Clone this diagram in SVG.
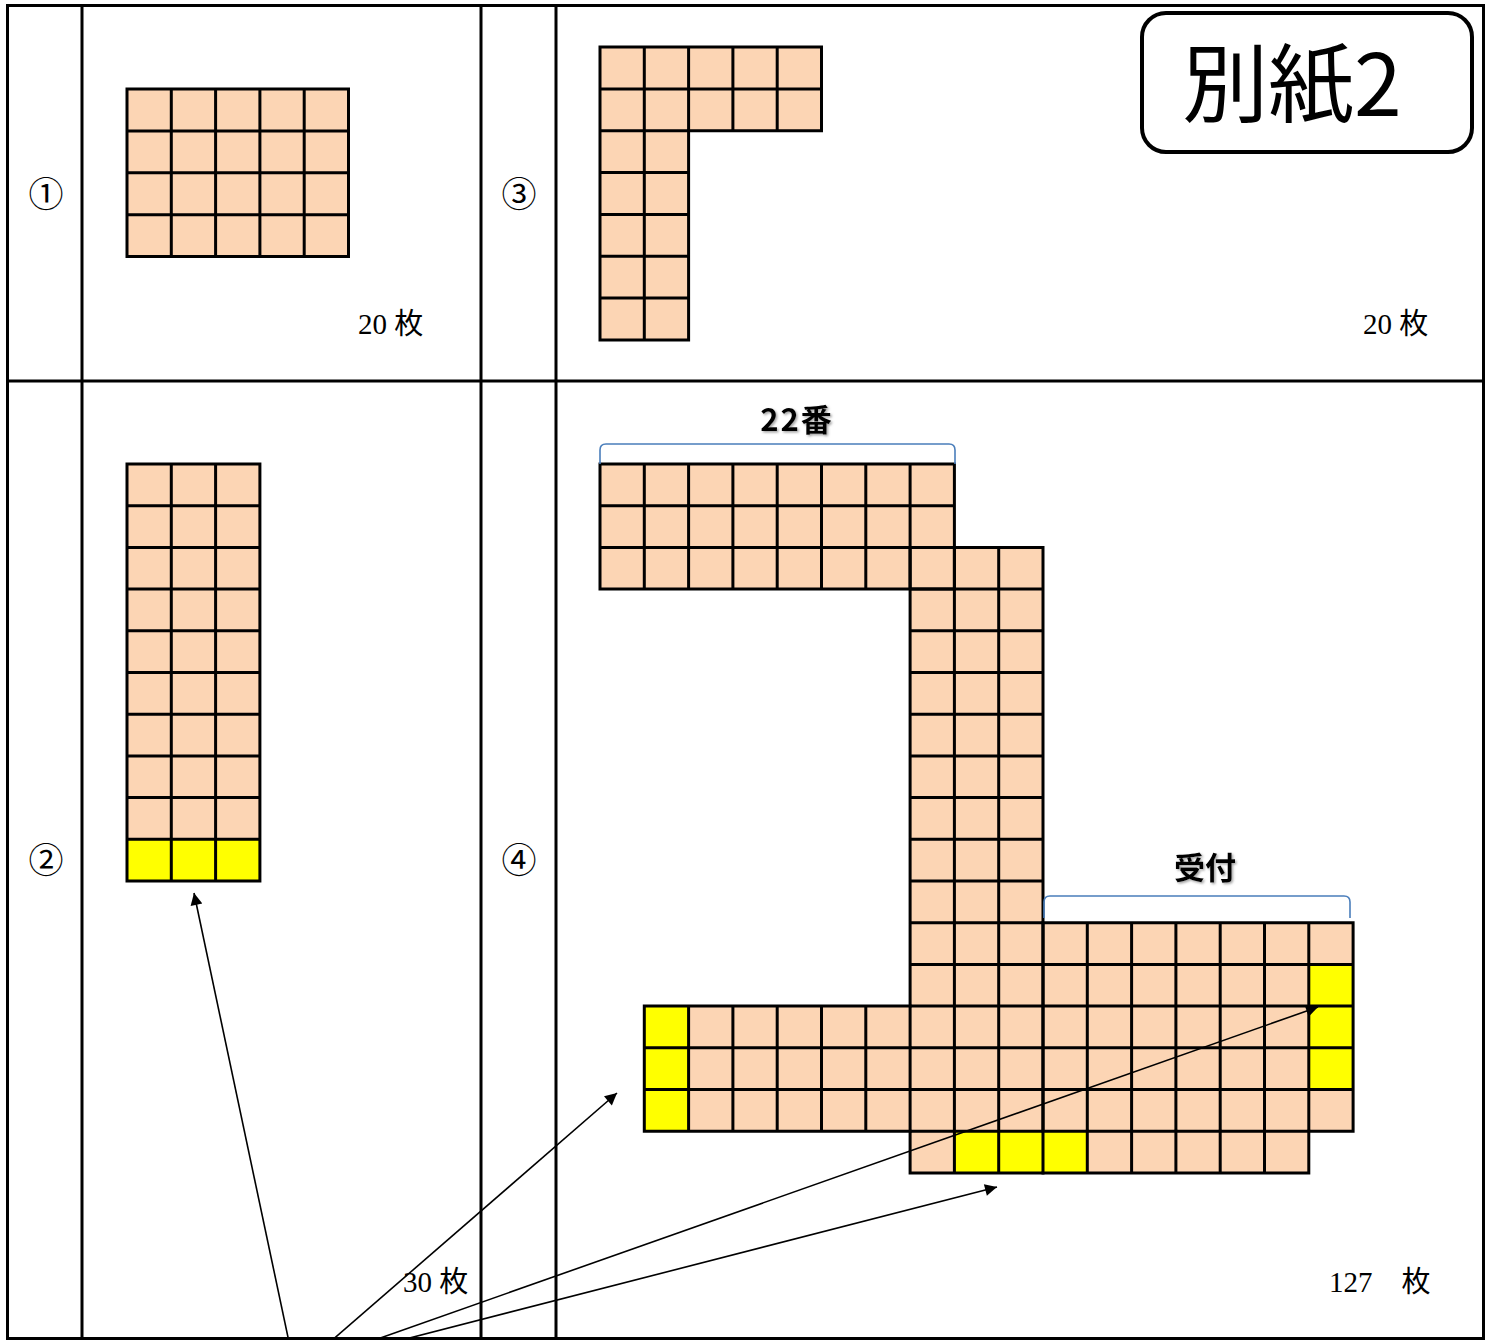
<svg xmlns="http://www.w3.org/2000/svg" width="1493" height="1340" viewBox="0 0 1493 1340">
<style>
.tbl{fill:none;stroke:#000;stroke-width:3}
.pe{fill:#FCD5B4}
.ye{fill:#FFFF00}
.gr{fill:none;stroke:#000;stroke-width:3;stroke-linecap:square}
.num{font-family:"Liberation Serif","Noto Sans CJK JP",serif;font-size:35px;fill:#000}
.cnt{font-family:"Liberation Serif","Noto Sans CJK JP",serif;font-size:29px;fill:#000}
.lab{font-family:"Noto Sans CJK JP",sans-serif;font-size:31px;font-weight:bold;fill:#000}
.br{fill:none;stroke:#4A7EBB;stroke-width:1.6}
.ar{fill:none;stroke:#000;stroke-width:1.6}
</style>
<defs>
<marker id="ahb" viewBox="0 0 10 10" refX="10" refY="5" markerWidth="16" markerHeight="12" markerUnits="userSpaceOnUse" orient="auto">
<path d="M0,0 L10,5 L0,10 z" fill="#000"/>
</marker>
<filter id="sh" x="-20%" y="-20%" width="140%" height="140%">
<feDropShadow dx="1.5" dy="1.5" stdDeviation="1" flood-color="#666" flood-opacity="0.6"/>
</filter>
</defs>
<rect width="1493" height="1340" fill="#fff"/>

<g id="table">
<rect class="tbl" x="7.5" y="5.5" width="1476" height="1333"/>
<line class="tbl" x1="82" y1="5.5" x2="82" y2="1340"/>
<line class="tbl" x1="481" y1="5.5" x2="481" y2="1340"/>
<line class="tbl" x1="556" y1="5.5" x2="556" y2="1340"/>
<line class="tbl" x1="7.5" y1="381" x2="1483.5" y2="381"/>
</g>

<g id="labels">
<text class="num" x="46" y="206.5" text-anchor="middle">①</text>
<text class="num" x="46" y="872.5" text-anchor="middle">②</text>
<text class="num" x="519" y="206.5" text-anchor="middle">③</text>
<text class="num" x="519" y="872.5" text-anchor="middle">④</text>
</g>

<g id="panel1">
<rect class="pe" x="127" y="89" width="221.5" height="167.6"/>
<path class="gr" d="M127,89H348.5M127,130.9H348.5M127,172.8H348.5M127,214.7H348.5M127,256.6H348.5
M127,89V256.6M171.3,89V256.6M215.6,89V256.6M259.9,89V256.6M304.2,89V256.6M348.5,89V256.6"/>
<text class="cnt" x="358" y="334">20 枚</text>
</g>

<g id="panel2">
<rect class="pe" x="127" y="464" width="132.9" height="417"/>
<rect class="ye" x="127" y="839.3" width="132.9" height="41.7"/>
<path class="gr" d="M127,464H259.9M127,505.7H259.9M127,547.4H259.9M127,589.1H259.9M127,630.8H259.9M127,672.5H259.9M127,714.2H259.9M127,755.9H259.9M127,797.6H259.9M127,839.3H259.9M127,881H259.9
M127,464V881M171.3,464V881M215.6,464V881M259.9,464V881"/>
<text class="cnt" x="403" y="1292">30 枚</text>
</g>

<g id="panel3">
<rect class="pe" x="600" y="47" width="221.5" height="83.7"/>
<rect class="pe" x="600" y="130.7" width="88.6" height="209.3"/>
<path class="gr" d="M600,47H821.5M600,88.9H821.5M600,130.7H821.5
M600,172.6H688.6M600,214.4H688.6M600,256.3H688.6M600,298.1H688.6M600,340H688.6
M600,47V340M644.3,47V340M688.6,47V340M732.9,47V130.7M777.2,47V130.7M821.5,47V130.7"/>
<text class="cnt" x="1363" y="334">20 枚</text>
</g>

<g id="title">
<rect x="1142" y="13" width="330" height="139" rx="24" ry="24" fill="#fff" stroke="#000" stroke-width="4"/>
<text x="1292" y="116" text-anchor="middle" font-family="'Noto Sans CJK JP',sans-serif" font-size="86" fill="#000">別紙2</text>
</g>

<g id="panel4">
<rect class="pe" x="600" y="464" width="354.4" height="125.1"/>
<rect class="pe" x="910.1" y="547.4" width="132.9" height="625.5"/>
<rect class="pe" x="1043" y="922.7" width="310.1" height="208.5"/>
<rect class="pe" x="1043" y="1131.2" width="265.8" height="41.7"/>
<rect class="pe" x="644.3" y="1006.1" width="265.8" height="125.1"/>
<rect class="ye" x="1308.8" y="964.4" width="44.3" height="125.1"/>
<rect class="ye" x="954.4" y="1131.2" width="132.9" height="41.7"/>
<rect class="ye" x="644.3" y="1006.1" width="44.3" height="125.1"/>
<path class="gr" d="M600,464H954.4M600,505.7H954.4M600,547.4H954.4M600,589.1H954.4
M600,464V589.1M644.3,464V589.1M688.6,464V589.1M732.9,464V589.1M777.2,464V589.1M821.5,464V589.1M865.8,464V589.1M910.1,464V589.1M954.4,464V589.1"/>
<path class="gr" d="M910.1,547.4H1043M910.1,589.1H1043M910.1,630.8H1043M910.1,672.5H1043M910.1,714.2H1043M910.1,755.9H1043M910.1,797.6H1043M910.1,839.3H1043M910.1,881H1043M910.1,922.7H1043M910.1,964.4H1043M910.1,1006.1H1043M910.1,1047.8H1043M910.1,1089.5H1043M910.1,1131.2H1043M910.1,1172.9H1043
M910.1,547.4V1172.9M954.4,547.4V1172.9M998.7,547.4V1172.9M1043,547.4V1172.9"/>
<path class="gr" d="M1043,922.7H1353.1M1043,964.4H1353.1M1043,1006.1H1353.1M1043,1047.8H1353.1M1043,1089.5H1353.1M1043,1131.2H1353.1
M1043,922.7V1131.2M1087.3,922.7V1131.2M1131.6,922.7V1131.2M1175.9,922.7V1131.2M1220.2,922.7V1131.2M1264.5,922.7V1131.2M1308.8,922.7V1131.2M1353.1,922.7V1131.2"/>
<path class="gr" d="M1043,1172.9H1308.8M1087.3,1131.2V1172.9M1131.6,1131.2V1172.9M1175.9,1131.2V1172.9M1220.2,1131.2V1172.9M1264.5,1131.2V1172.9M1308.8,1131.2V1172.9"/>
<path class="gr" d="M644.3,1006.1H910.1M644.3,1047.8H910.1M644.3,1089.5H910.1M644.3,1131.2H910.1
M644.3,1006.1V1131.2M688.6,1006.1V1131.2M732.9,1006.1V1131.2M777.2,1006.1V1131.2M821.5,1006.1V1131.2M865.8,1006.1V1131.2"/>
<path class="br" d="M600,464V450Q600,444 606,444H949Q955,444 955,450V464"/>
<text class="lab" x="797" y="431" text-anchor="middle" letter-spacing="2" filter="url(#sh)">22番</text>
<path class="br" d="M1044,918V902Q1044,896 1050,896H1344Q1350,896 1350,902V918"/>
<text class="lab" x="1205" y="879" text-anchor="middle" filter="url(#sh)">受付</text>
<text class="cnt" x="1329" y="1292">127　枚</text>
</g>

<g id="connectors">
<line class="ar" x1="289" y1="1342" x2="194" y2="893" marker-end="url(#ahb)"/>
<line class="ar" x1="330" y1="1342" x2="617" y2="1093" marker-end="url(#ahb)"/>
<line class="ar" x1="369" y1="1342" x2="1318" y2="1007" marker-end="url(#ahb)"/>
<line class="ar" x1="394" y1="1342" x2="997" y2="1187" marker-end="url(#ahb)"/>
</g>
</svg>
